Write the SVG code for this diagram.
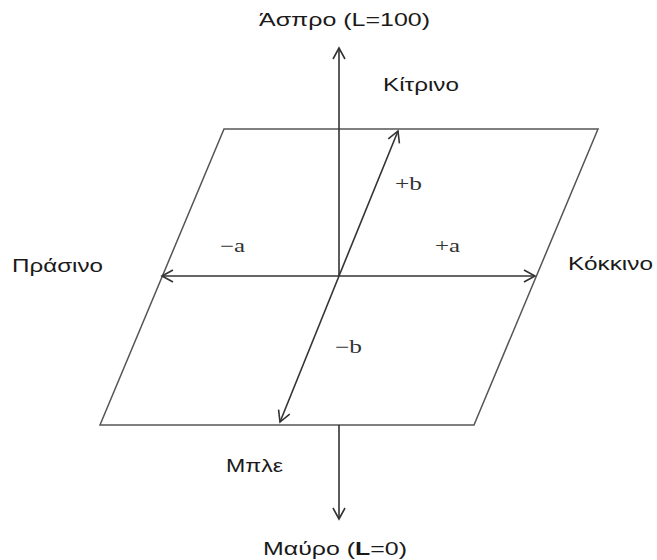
<svg xmlns="http://www.w3.org/2000/svg" width="657" height="560" viewBox="0 0 657 560">
<defs>
<style>
.ax{stroke:#333;stroke-width:1.6;fill:none}
.pl{stroke:#555;stroke-width:1.5;fill:none}
.gr{font-family:"Liberation Sans",Arial,sans-serif;font-size:18px;fill:#1a1a1a}
.sf{font-family:"Liberation Serif","Times New Roman",serif;font-size:18px;fill:#333}
</style>
<marker id="ah" markerUnits="userSpaceOnUse" markerWidth="16" markerHeight="16" viewBox="-14 -8 16 16" refX="0" refY="0" orient="auto">
<path d="M-11,-6 L0,0 L-11,6" fill="none" stroke="#333" stroke-width="1.6"/>
</marker>
</defs>
<rect width="657" height="560" fill="#fff"/>
<g id="plane">
<polygon class="pl" points="224,129 598,129 474,425 100,425"/>
</g>
<g id="connectors">
<line class="ax" x1="339" y1="276" x2="339" y2="48" marker-end="url(#ah)"/>
<line class="ax" x1="339" y1="425" x2="339" y2="519" marker-end="url(#ah)"/>
<line class="ax" x1="339" y1="276" x2="162" y2="276" marker-end="url(#ah)"/>
<line class="ax" x1="339" y1="276" x2="535" y2="276" marker-end="url(#ah)"/>
<line class="ax" x1="339" y1="276" x2="398" y2="131" marker-end="url(#ah)"/>
<line class="ax" x1="339" y1="276" x2="280" y2="422" marker-end="url(#ah)"/>
</g>
<g id="white"><text class="gr" x="259" y="26" textLength="171" lengthAdjust="spacingAndGlyphs">Άσπρο (L=100)</text></g>
<g id="yellow"><text class="gr" x="383" y="91" textLength="76" lengthAdjust="spacingAndGlyphs">Κίτρινο</text></g>
<g id="green"><text class="gr" x="12" y="272" textLength="91" lengthAdjust="spacingAndGlyphs">Πράσινο</text></g>
<g id="red"><text class="gr" x="568" y="270" textLength="85" lengthAdjust="spacingAndGlyphs">Κόκκινο</text></g>
<g id="blue"><text class="gr" x="226" y="472" textLength="57" lengthAdjust="spacingAndGlyphs">Μπλε</text></g>
<g id="black"><text class="gr" x="263" y="555" textLength="144" lengthAdjust="spacingAndGlyphs">Μαύρο (<tspan font-weight="bold">L</tspan>=0)</text></g>
<g id="plus-b"><text class="sf" x="395" y="190" textLength="27" lengthAdjust="spacingAndGlyphs">+b</text></g>
<g id="minus-b"><text class="sf" x="335" y="353" textLength="27" lengthAdjust="spacingAndGlyphs">−b</text></g>
<g id="minus-a"><text class="sf" x="220" y="252" textLength="25" lengthAdjust="spacingAndGlyphs">−a</text></g>
<g id="plus-a"><text class="sf" x="435" y="252" textLength="25" lengthAdjust="spacingAndGlyphs">+a</text></g>
</svg>
